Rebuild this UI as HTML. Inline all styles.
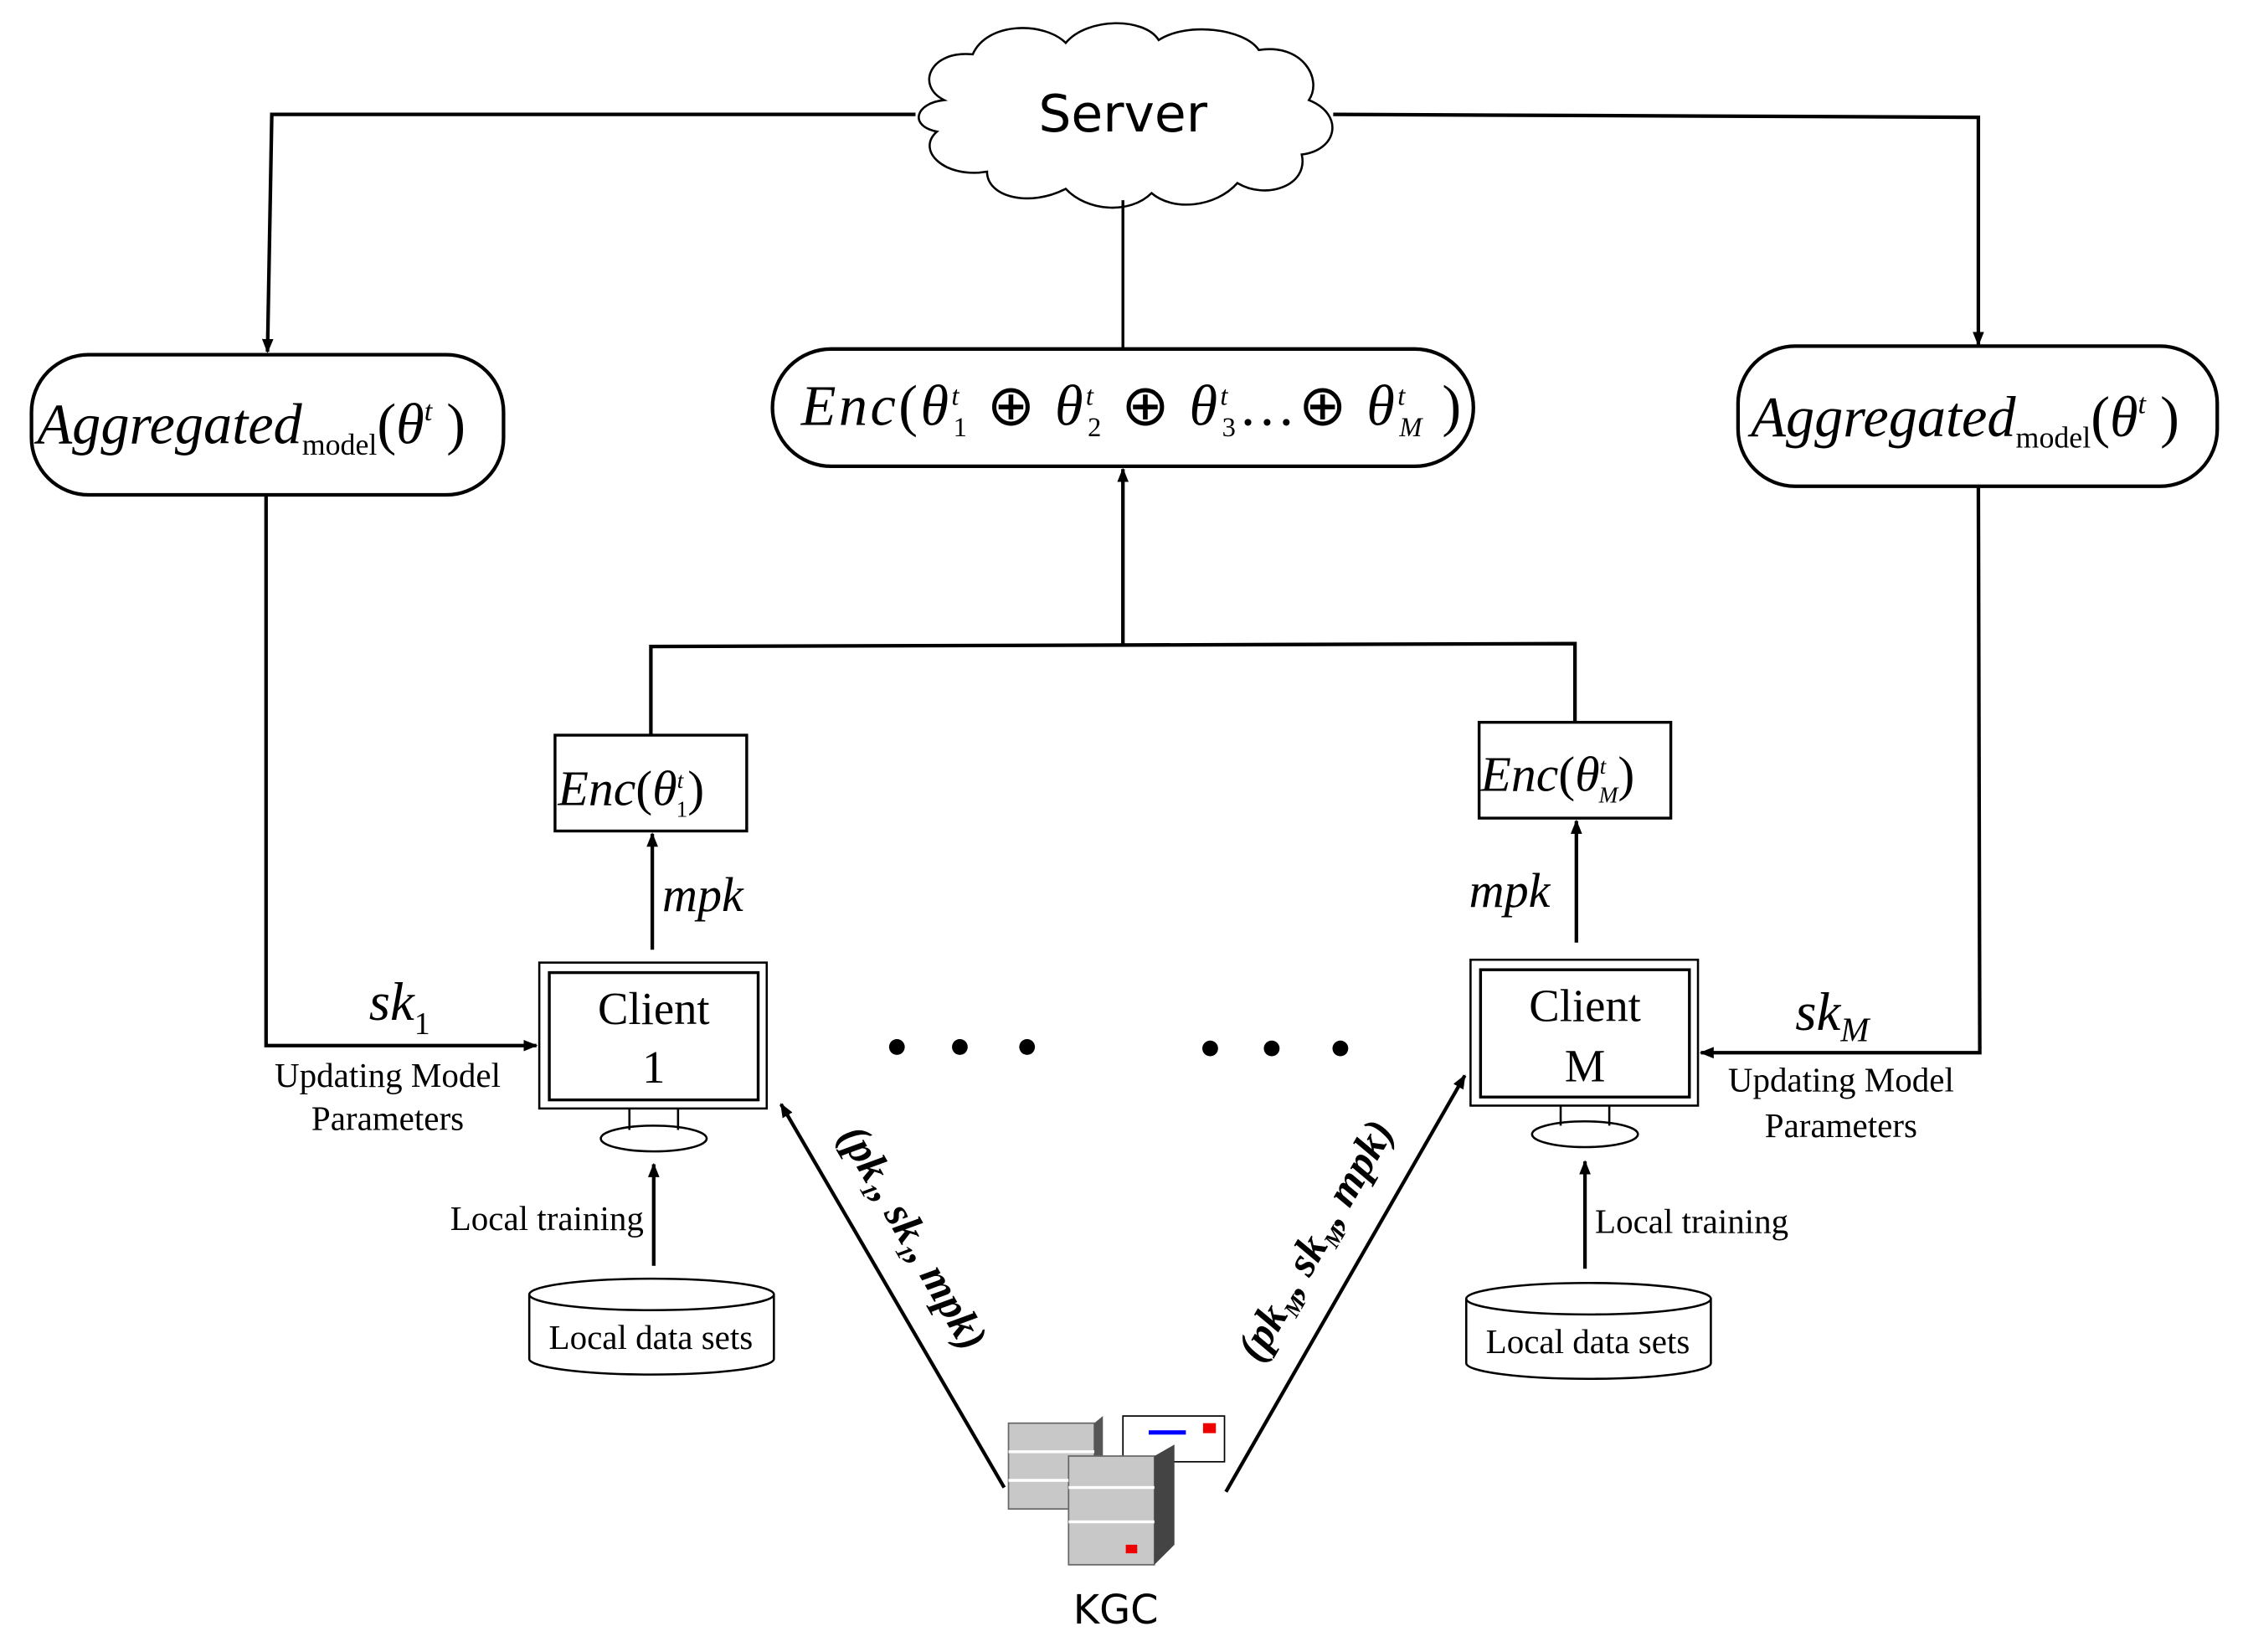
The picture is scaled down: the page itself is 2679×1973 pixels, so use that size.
<!DOCTYPE html>
<html><head><meta charset="utf-8"><style>
html,body{margin:0;padding:0;background:#fff;}
svg{display:block;}
text{font-family:"Liberation Serif",serif;}
.m{font-style:italic;}
</style></head><body>
<svg width="2679" height="1973" viewBox="0 0 1568 1155" preserveAspectRatio="none" xmlns="http://www.w3.org/2000/svg">
<defs>
<marker id="a" markerWidth="10" markerHeight="10" refX="9" refY="5" orient="auto" markerUnits="userSpaceOnUse">
<path d="M0,1 L10,5 L0,9 z" fill="#000"/></marker>
</defs>
<g fill="none" stroke="#000" stroke-width="2.5">
<path d="M660,70 C640,60 650,35 680,38 C690,15 730,15 745,30 C760,12 800,12 810,28 C830,15 870,20 880,35 C910,30 925,55 915,70 C940,80 935,105 910,108 C915,130 885,140 865,128 C850,145 820,148 805,135 C790,150 760,148 745,132 C720,145 690,138 690,120 C660,125 640,105 655,92 C635,88 640,72 660,70 z" stroke-width="1.5"/>
<polyline points="640,80 190,80 187,246" marker-end="url(#a)"/>
<polyline points="932,80 1383,82 1383,241" marker-end="url(#a)"/>
<line x1="785" y1="140" x2="785" y2="244" stroke-width="2"/>
<rect x="22" y="248" width="330" height="98" rx="40"/>
<rect x="540" y="244" width="490" height="82" rx="41"/>
<rect x="1215" y="242" width="335" height="98" rx="40"/>
<line x1="785" y1="450" x2="785" y2="328" marker-end="url(#a)"/>
<polyline points="455,514 455,452 1101,450 1101,505"/>
<rect x="388" y="514" width="134" height="67" stroke-width="2"/>
<rect x="1034" y="505" width="134" height="67" stroke-width="2"/>
<line x1="456" y1="664" x2="456" y2="583" marker-end="url(#a)"/>
<line x1="1102" y1="659" x2="1102" y2="574" marker-end="url(#a)"/>
<polyline points="186,346 186,731 375,731" marker-end="url(#a)"/>
<polyline points="1383,340 1384,736 1189,736" marker-end="url(#a)"/>
<rect x="377" y="673" width="159" height="102" stroke-width="1.5"/>
<rect x="384" y="680" width="146" height="89" stroke-width="2"/>
<rect x="1028" y="671" width="159" height="102" stroke-width="1.5"/>
<rect x="1035" y="678" width="146" height="89" stroke-width="2"/>
<path d="M440,775 V790 M474,775 V790" stroke-width="1.5"/>
<ellipse cx="457" cy="796" rx="37" ry="9" stroke-width="1.5"/>
<path d="M1091,773 V787 M1125,773 V787" stroke-width="1.5"/>
<ellipse cx="1108" cy="793" rx="37" ry="9" stroke-width="1.5"/>
<line x1="457" y1="885" x2="457" y2="814" marker-end="url(#a)"/>
<line x1="1108" y1="887" x2="1108" y2="812" marker-end="url(#a)"/>
<path d="M370,905 V950 A85.5,11 0 0 0 541,950 V905" stroke-width="1.5"/>
<ellipse cx="455.5" cy="905" rx="85.5" ry="11" stroke-width="1.5"/>
<path d="M1025,908 V953 A85.5,11 0 0 0 1196,953 V908" stroke-width="1.5"/>
<ellipse cx="1110.5" cy="908" rx="85.5" ry="11" stroke-width="1.5"/>
<line x1="702" y1="1040" x2="546" y2="772" marker-end="url(#a)"/>
<line x1="857" y1="1043" x2="1024" y2="752" marker-end="url(#a)"/>
</g>
<g fill="#000">
<circle cx="627" cy="732" r="5.5"/><circle cx="671" cy="732" r="5.5"/><circle cx="718" cy="732" r="5.5"/>
<circle cx="846" cy="733" r="5.5"/><circle cx="889" cy="733" r="5.5"/><circle cx="937" cy="733" r="5.5"/>
</g>
<rect x="785" y="990" width="71" height="32" fill="#fff" stroke="#000" stroke-width="1"/>
<rect x="803" y="1000" width="26" height="3" fill="#00f"/><rect x="841" y="995" width="9" height="7" fill="#e00"/>
<rect x="705" y="995" width="60" height="60" fill="#c8c8c8" stroke="#666"/>
<path d="M765,995 l6,-5 v60 l-6,5z" fill="#555"/>
<rect x="747" y="1018" width="60" height="76" fill="#c8c8c8" stroke="#666"/>
<path d="M807,1018 l14,-8 v70 l-14,14z" fill="#444"/>
<path d="M747,1040 h60 M747,1064 h60 M705,1015 h60 M705,1035 h42" stroke="#fff" stroke-width="2"/>
<rect x="787" y="1080" width="8" height="6" fill="#e00"/>
<text x="785" y="92" font-size="36" text-anchor="middle" style="font-family:'DejaVu Sans',sans-serif">Server</text>
<text x="780" y="1135" font-size="28" text-anchor="middle" style="font-family:'DejaVu Sans',sans-serif">KGC</text>
<text x="26" y="310" font-size="40" class="m">Aggregated<tspan font-size="21" font-style="normal" dy="8">model</tspan><tspan dy="-8" font-style="normal">(</tspan>θ<tspan font-size="20" dy="-16">t</tspan><tspan dy="16" font-style="normal"> )</tspan></text>
<text x="1224" y="305" font-size="40" class="m">Aggregated<tspan font-size="21" font-style="normal" dy="8">model</tspan><tspan dy="-8" font-style="normal">(</tspan>θ<tspan font-size="20" dy="-16">t</tspan><tspan dy="16" font-style="normal"> )</tspan></text>
<text x="560" y="297" font-size="40" class="m" letter-spacing="2">Enc<tspan font-style="normal">(</tspan>θ<tspan font-size="19" dy="-14">t</tspan><tspan font-size="19" dx="-6" dy="22" font-style="normal">1</tspan><tspan dy="-8" font-style="normal"> ⊕ </tspan>θ<tspan font-size="19" dy="-14">t</tspan><tspan font-size="19" dx="-6" dy="22" font-style="normal">2</tspan><tspan dy="-8" font-style="normal"> ⊕ </tspan>θ<tspan font-size="19" dy="-14">t</tspan><tspan font-size="19" dx="-6" dy="22" font-style="normal">3</tspan><tspan dy="-8" font-style="normal">…⊕ </tspan>θ<tspan font-size="19" dy="-14">t</tspan><tspan font-size="19" dx="-6" dy="22">M</tspan><tspan dy="-8" font-style="normal"> )</tspan></text>
<text x="390" y="563" font-size="35" class="m">Enc<tspan font-style="normal">(</tspan>θ<tspan font-size="16" dy="-12">t</tspan><tspan font-size="16" dx="-5" dy="20" font-style="normal">1</tspan><tspan dy="-8" font-style="normal">)</tspan></text>
<text x="1035" y="553" font-size="35" class="m">Enc<tspan font-style="normal">(</tspan>θ<tspan font-size="16" dy="-12">t</tspan><tspan font-size="16" dx="-5" dy="20">M</tspan><tspan dy="-8" font-style="normal">)</tspan></text>
<text x="463" y="637" font-size="34" class="m">mpk</text>
<text x="1027" y="634" font-size="34" class="m">mpk</text>
<text x="258" y="713" font-size="38" class="m">sk<tspan font-size="22" font-style="normal" dy="10">1</tspan></text>
<text x="1255" y="720" font-size="38" class="m">sk<tspan font-size="24" dy="8">M</tspan></text>
<g font-size="24" text-anchor="middle">
<text x="271" y="760">Updating Model</text><text x="271" y="790">Parameters</text>
<text x="1287" y="763">Updating Model</text><text x="1287" y="795">Parameters</text>
<text x="457" y="716" font-size="32">Client</text><text x="457" y="757" font-size="32">1</text>
<text x="1108" y="714" font-size="32">Client</text><text x="1108" y="756" font-size="32">M</text>
<text x="455" y="943">Local data sets</text><text x="1110" y="946">Local data sets</text>
</g>
<text x="450" y="860" font-size="24" text-anchor="end">Local training</text>
<text x="1115" y="862" font-size="24">Local training</text>
<text transform="translate(630,870) rotate(60)" font-size="30" text-anchor="middle" class="m" font-weight="bold">(pk<tspan font-size="16" dy="6">1</tspan><tspan dy="-6">, sk</tspan><tspan font-size="16" dy="6">1</tspan><tspan dy="-6">, mpk)</tspan></text>
<text transform="translate(928,872) rotate(-60)" font-size="30" text-anchor="middle" class="m" font-weight="bold">(pk<tspan font-size="16" dy="6">M</tspan><tspan dy="-6">, sk</tspan><tspan font-size="16" dy="6">M</tspan><tspan dy="-6">, mpk)</tspan></text>
</svg>
</body></html>
